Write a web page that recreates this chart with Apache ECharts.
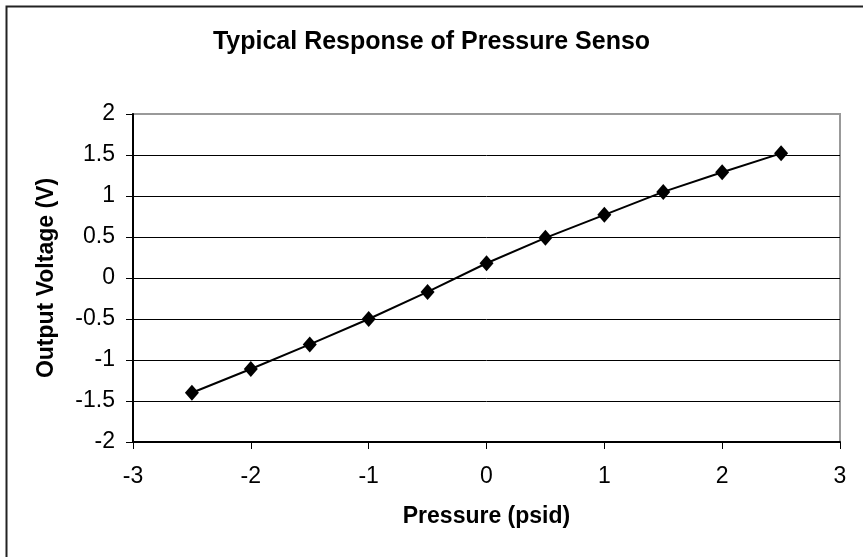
<!DOCTYPE html>
<html>
<head>
<meta charset="utf-8">
<script src="https://cdn.jsdelivr.net/npm/echarts@6/dist/echarts.min.js"></script>
<style>
  html, body { margin: 0; padding: 0; background: #fff; }
  #chart { width: 863px; height: 557px; }
</style>
</head>
<body>
<div id="chart"></div>
<script>
// pressure readings (psid) and sensor output (V)
const pressure = [-2.5, -2, -1.5, -1, -0.5, 0, 0.5, 1, 1.5, 2, 2.5]
const voltage = [-1.40, -1.11, -0.81, -0.50, -0.17, 0.18, 0.49, 0.77, 1.05, 1.29, 1.52]

const titleText = 'Typical Response of Pressure Senso'
const xName = 'Pressure (psid)'
const yName = 'Output Voltage (V)'

const font = 'Liberation Sans, Arial, sans-serif'

const myChart = echarts.init(document.getElementById('chart'))

// top gridline doubles as the grey plot frame
const splitColors = ['#000', '#000', '#000', '#000', '#000', '#000', '#000', '#000', '#999']

const option = {
  animation: false,
  backgroundColor: '#fff',
  title: {
    text: titleText,
    left: 'center',
    top: 25,
    textStyle: { fontFamily: font, fontSize: 25, fontWeight: 'bold', color: '#000' }
  },
  graphic: [
    {
      type: 'rect',
      shape: { x: 6.5, y: 6.5, width: 900, height: 600 },
      style: { fill: null, stroke: '#222', lineWidth: 2 },
      silent: true
    }
  ],
  grid: {
    left: 133,
    right: 23,
    top: 114,
    bottom: 115,
    show: true,
    borderColor: '#999',
    borderWidth: 2,
    backgroundColor: 'transparent'
  },
  xAxis: {
    type: 'value',
    min: -3,
    max: 3,
    interval: 1,
    name: xName,
    nameLocation: 'middle',
    nameGap: 63,
    nameTextStyle: { fontFamily: font, fontSize: 23, fontWeight: 'bold', color: '#000' },
    axisLine: { onZero: false, lineStyle: { color: '#000', width: 2 } },
    axisTick: { show: true, length: 7, lineStyle: { color: '#000' } },
    axisLabel: { fontFamily: font, fontSize: 23, color: '#000', margin: 23 },
    splitLine: { show: false }
  },
  yAxis: {
    type: 'value',
    min: -2,
    max: 2,
    interval: 0.5,
    name: yName,
    nameLocation: 'middle',
    nameRotate: 90,
    nameGap: 75,
    nameTextStyle: { fontFamily: font, fontSize: 23, fontWeight: 'bold', color: '#000' },
    axisLine: { onZero: false, lineStyle: { color: '#000', width: 2 } },
    axisTick: { show: true, length: 7, lineStyle: { color: '#000' } },
    axisLabel: { fontFamily: font, fontSize: 23, color: '#000', margin: 18 },
    splitLine: { show: true, lineStyle: { color: splitColors, width: 1 } }
  },
  series: [
    {
      type: 'line',
      data: pressure.map((p, i) => [p, voltage[i]]),
      symbol: 'diamond',
      symbolSize: [14, 16],
      itemStyle: { color: '#000' },
      lineStyle: { color: '#000', width: 2 }
    }
  ]
}
option && myChart.setOption(option)
</script>
</body>
</html>
